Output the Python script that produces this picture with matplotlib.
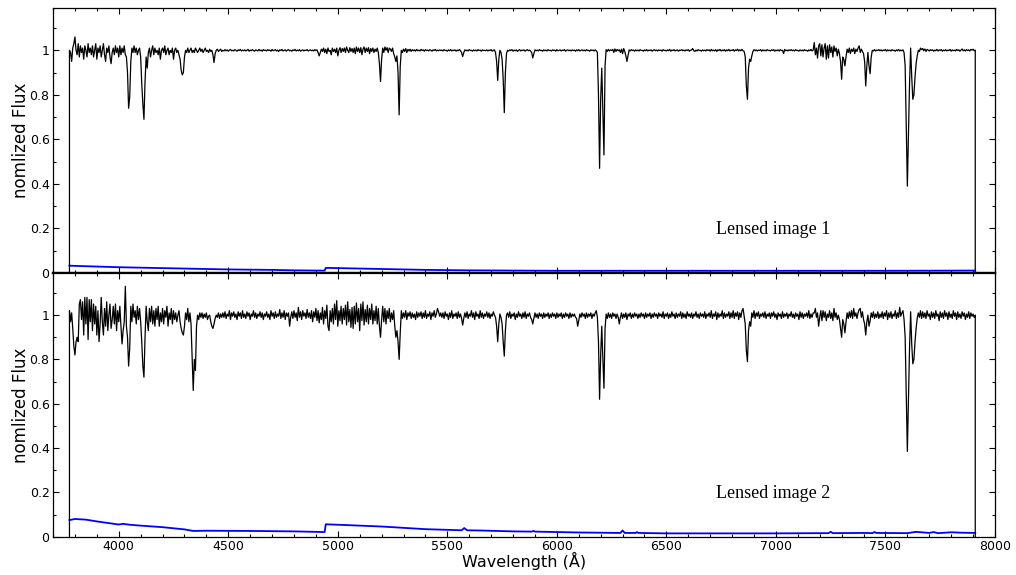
import numpy as np
import matplotlib
matplotlib.use("Agg")
import matplotlib.pyplot as plt
from matplotlib.ticker import MultipleLocator, FormatStrFormatter

# Normalised spectra of the two lensed images, sampled every 5 A from 3775 A
wave_start = 3775.0
wave_step = 5.0

flux_1 = [
    # 3775
    1.00, 0.99, 0.95, 1.01, 1.03, 1.06, 1.00, 0.98, 1.03, 0.97, 1.02, 0.99, 1.01, 0.96, 1.02, 1.00, 0.97, 1.03, 0.99, 1.01,
    # 3875
    0.98, 1.02, 0.97, 1.00, 1.03, 0.96, 1.01, 0.99, 1.02, 0.97, 1.00, 1.03, 0.98, 0.95, 1.01, 0.99, 1.02, 0.97, 0.94, 0.99,
    # 3975
    1.01, 0.98, 1.02, 0.99, 1.01, 0.97, 1.02, 0.98, 1.01, 0.99, 1.02, 0.98, 0.97, 0.90, 0.74, 0.79, 0.95, 1.01, 0.99, 1.02,
    # 4075
    0.99, 1.01, 0.98, 1.00, 1.01, 0.97, 0.85, 0.76, 0.69, 0.86, 0.97, 0.92, 0.99, 1.01, 0.97, 1.00, 1.02, 0.98, 1.01, 0.99,
    # 4175
    1.00, 0.98, 1.01, 0.96, 1.00, 1.01, 0.99, 1.02, 0.98, 1.00, 1.01, 0.98, 1.00, 0.99, 1.01, 0.96, 1.00, 1.01, 0.99, 1.00,
    # 4275
    0.98, 0.96, 0.91, 0.89, 0.90, 0.97, 1.00, 0.99, 1.01, 0.99, 1.00, 1.01, 0.99, 1.00, 0.99, 1.01, 1.00, 0.99, 1.00, 1.01,
    # 4375
    0.995, 1.005, 0.99, 1.00, 1.01, 0.995, 1.00, 0.99, 1.005, 0.995, 1.00, 0.98, 0.945, 0.985, 1.00, 1.005, 0.995, 1.00, 1.005, 0.995,
    # 4475
    1.000, 0.997, 1.003, 0.998, 1.002, 0.996, 1.001, 1.004, 0.998, 1.000, 0.997, 1.003, 1.000, 0.996, 1.002, 0.999, 1.004, 0.997, 1.001, 0.998,
    # 4575
    1.002, 0.997, 1.000, 1.004, 0.996, 1.001, 0.998, 1.003, 0.999, 0.996, 1.002, 1.000, 0.997, 1.004, 0.998, 1.001, 0.996, 1.003, 0.999, 1.001,
    # 4675
    0.997, 1.003, 0.999, 1.001, 0.996, 1.004, 0.998, 1.000, 1.003, 0.997, 1.001, 0.995, 1.002, 0.999, 1.004, 0.997, 1.000, 1.002, 0.996, 1.001,
    # 4775
    1.003, 0.998, 1.000, 0.996, 1.002, 0.999, 1.004, 0.997, 1.001, 0.998, 1.003, 0.996, 1.000, 1.002, 0.997, 1.001, 0.999, 1.003, 0.997, 1.000,
    # 4875
    1.002, 0.998, 1.001, 0.997, 1.003, 0.999, 1.002, 0.990, 0.975, 0.990, 1.005, 0.995, 1.010, 0.990, 1.005, 0.985, 1.010, 0.995, 1.000, 0.980,
    # 4975
    1.010, 0.995, 1.005, 0.990, 1.010, 0.975, 1.000, 1.012, 0.990, 1.008, 0.995, 1.010, 0.990, 1.015, 1.000, 0.990, 1.012, 0.995, 1.008, 0.990,
    # 5075
    1.010, 0.985, 1.015, 0.995, 1.010, 0.990, 1.012, 0.980, 1.005, 1.015, 0.990, 1.010, 0.995, 1.012, 0.985, 1.008, 0.995, 1.010, 0.990, 1.005,
    # 5175
    0.995, 1.010, 0.990, 0.940, 0.860, 0.960, 1.010, 0.990, 1.015, 1.000, 1.012, 0.990, 1.010, 1.005, 0.995, 1.010, 0.985, 0.970, 0.950, 0.975,
    # 5275
    0.900, 0.710, 0.930, 1.000, 0.990, 1.005, 0.995, 1.008, 0.990, 1.004, 0.997, 1.005, 0.995, 1.003, 0.998, 1.002, 0.996, 1.004, 0.998, 1.001,
    # 5375
    0.997, 1.004, 0.999, 1.002, 0.996, 1.003, 0.999, 1.001, 0.997, 1.003, 1.000, 0.996, 1.002, 0.999, 1.004, 0.997, 1.001, 0.998, 1.002, 0.999,
    # 5475
    1.001, 0.997, 1.003, 0.999, 1.000, 0.996, 1.002, 0.998, 1.003, 0.997, 1.001, 0.999, 1.002, 0.996, 1.001, 0.998, 1.003, 0.998, 0.990, 0.972,
    # 5575
    0.990, 1.002, 0.998, 1.001, 0.997, 1.003, 0.999, 1.000, 0.996, 1.002, 0.998, 1.001, 0.997, 1.003, 0.999, 1.001, 0.996, 1.002, 0.999, 1.000,
    # 5675
    0.998, 1.002, 0.997, 1.001, 0.999, 1.003, 0.996, 1.000, 1.002, 0.990, 0.950, 0.865, 0.960, 1.000, 0.990, 0.960, 0.870, 0.720, 0.900, 0.985,
    # 5775
    1.000, 0.997, 1.002, 0.999, 1.003, 0.996, 1.001, 0.998, 1.002, 0.995, 1.000, 1.003, 0.997, 1.001, 0.999, 1.002, 0.996, 1.000, 1.003, 0.998,
    # 5875
    1.001, 0.997, 0.990, 0.966, 0.985, 1.002, 0.998, 1.001, 0.997, 1.003, 0.999, 1.000, 0.996, 1.002, 0.998, 1.001, 0.997, 1.003, 0.999, 1.000,
    # 5975
    0.997, 1.002, 0.999, 1.001, 0.996, 1.003, 0.998, 1.000, 1.002, 0.997, 1.001, 0.999, 1.003, 0.996, 1.000, 1.002, 0.998, 1.001, 0.997, 1.002,
    # 6075
    0.999, 1.001, 0.996, 1.002, 0.998, 1.003, 0.997, 1.000, 1.002, 0.998, 1.001, 0.997, 1.003, 0.999, 1.000, 0.996, 1.002, 0.999, 1.001, 0.997,
    # 6175
    1.002, 0.998, 0.990, 0.800, 0.470, 0.780, 0.920, 0.720, 0.530, 0.930, 1.003, 0.995, 1.004, 0.997, 1.002, 0.999, 1.004, 0.990, 1.006, 0.995,
    # 6275
    1.004, 0.998, 1.002, 0.990, 1.005, 0.985, 1.008, 0.995, 0.975, 0.950, 0.975, 1.002, 0.997, 1.003, 0.999, 1.001, 0.996, 1.002, 0.998, 1.001,
    # 6375
    0.997, 1.003, 0.999, 1.000, 0.996, 1.002, 0.998, 1.003, 0.997, 1.001, 0.999, 1.002, 0.996, 1.000, 1.003, 0.998, 1.001, 0.997, 1.002, 0.999,
    # 6475
    1.001, 0.996, 1.003, 0.999, 1.000, 0.997, 1.002, 0.998, 1.004, 0.996, 1.001, 0.999, 1.003, 0.997, 1.000, 1.002, 0.996, 1.001, 0.999, 1.003,
    # 6575
    0.998, 1.001, 0.997, 1.002, 0.999, 1.003, 0.996, 1.000, 1.002, 1.008, 0.998, 0.995, 1.001, 0.997, 1.003, 0.999, 1.000, 0.996, 1.002, 0.998,
    # 6675
    1.001, 0.997, 1.003, 0.999, 1.002, 0.996, 1.004, 0.998, 1.001, 0.997, 1.003, 0.995, 1.002, 0.999, 1.004, 0.997, 1.001, 0.998, 1.003, 0.996,
    # 6775
    1.002, 0.998, 1.004, 0.997, 1.001, 0.999, 1.003, 0.996, 1.002, 0.999, 1.005, 0.997, 1.002, 0.998, 1.004, 0.998, 0.995, 0.970, 0.840, 0.780,
    # 6875
    0.920, 0.960, 0.950, 0.975, 0.995, 1.003, 0.998, 1.002, 0.997, 1.001, 0.999, 1.003, 0.996, 1.002, 0.998, 1.001, 0.997, 1.003, 0.999, 1.000,
    # 6975
    0.997, 1.002, 0.999, 1.003, 0.996, 1.001, 0.998, 1.002, 0.997, 1.003, 0.999, 1.000, 0.985, 1.004, 0.998, 1.001, 0.997, 1.002, 0.999, 1.003,
    # 7075
    0.998, 1.001, 0.997, 1.003, 0.999, 1.000, 0.996, 1.002, 0.998, 1.001, 0.997, 1.003, 0.999, 1.000, 0.996, 1.002, 0.998, 1.004, 0.997, 1.001,
    # 7175
    1.035, 0.980, 1.010, 0.965, 1.020, 1.030, 0.975, 1.025, 0.970, 1.010, 1.030, 0.960, 1.020, 0.965, 1.025, 0.990, 1.015, 0.970, 1.020, 0.995,
    # 7275
    1.010, 0.975, 1.005, 0.985, 0.950, 0.870, 0.970, 0.960, 0.930, 0.970, 1.005, 0.990, 1.010, 0.985, 1.005, 0.995, 1.010, 0.985, 1.005, 0.995,
    # 7375
    1.010, 1.020, 0.990, 1.005, 0.995, 0.985, 0.950, 0.840, 0.930, 0.990, 0.930, 0.895, 0.970, 1.000, 0.997, 1.003, 0.997, 1.001, 0.999, 1.003,
    # 7475
    0.998, 1.002, 0.997, 1.001, 0.999, 1.004, 0.996, 1.002, 0.998, 1.001, 0.997, 1.003, 0.999, 1.000, 0.996, 1.002, 0.998, 1.004, 0.997, 1.001,
    # 7575
    0.998, 1.002, 0.990, 0.930, 0.660, 0.390, 0.620, 0.850, 1.010, 0.880, 0.780, 0.800, 0.880, 0.940, 0.975, 1.000, 0.995, 1.010, 1.003, 1.008,
    # 7675
    0.998, 1.006, 0.995, 1.004, 1.001, 0.997, 1.003, 0.999, 1.002, 0.996, 1.001, 0.998, 1.004, 0.997, 1.002, 0.999, 1.003, 0.996, 1.001, 0.998,
    # 7775
    1.003, 0.997, 1.001, 0.999, 1.004, 0.996, 1.002, 0.998, 1.001, 0.997, 1.004, 0.999, 1.002, 0.996, 1.001, 1.006, 0.998, 1.002, 0.997, 1.003,
    # 7875
    0.999, 1.002, 0.997, 1.004, 1.001, 1.005, 0.998, 1.001,
]

flux_2 = [
    # 3775
    1.02, 0.97, 1.01, 0.94, 0.86, 0.82, 0.88, 0.90, 0.88, 1.05, 1.07, 0.98, 1.06, 0.91, 1.08, 0.96, 1.08, 0.89, 1.07, 0.97,
    # 3875
    1.07, 0.93, 1.05, 0.96, 1.04, 0.91, 1.02, 0.88, 0.96, 1.08, 0.97, 0.91, 1.03, 0.95, 1.06, 0.93, 1.00, 1.05, 0.94, 0.98,
    # 3975
    1.04, 0.96, 1.05, 0.93, 1.02, 0.97, 1.04, 0.95, 0.87, 0.93, 0.97, 1.13, 0.95, 0.90, 0.77, 0.85, 1.04, 0.97, 1.05, 0.99,
    # 4075
    1.02, 0.96, 1.04, 0.98, 1.03, 0.97, 0.88, 0.77, 0.72, 0.90, 1.04, 0.97, 0.93, 1.03, 0.97, 1.04, 0.96, 1.02, 0.95, 1.03,
    # 4175
    0.98, 1.04, 0.95, 1.01, 0.97, 1.03, 0.96, 1.02, 0.99, 1.04, 0.95, 1.01, 0.98, 1.03, 0.96, 1.02, 0.98, 1.01, 0.97, 1.00,
    # 4275
    1.02, 0.97, 0.94, 0.92, 0.91, 0.95, 1.01, 0.98, 1.03, 0.97, 1.01, 0.96, 0.81, 0.66, 0.80, 0.75, 0.95, 1.00, 0.98, 1.01,
    # 4375
    0.99, 1.01, 0.985, 1.005, 0.99, 1.01, 0.98, 0.995, 1.00, 0.97, 0.95, 0.94, 0.96, 0.985, 1.00, 0.99, 1.01, 0.985, 1.005, 0.99,
    # 4475
    1.01, 0.99, 1.015, 0.985, 1.005, 0.995, 1.02, 0.98, 1.01, 0.995, 1.015, 0.99, 1.005, 0.98, 1.015, 0.995, 1.01, 0.985, 1.02, 0.99,
    # 4575
    1.005, 0.985, 1.015, 0.995, 1.01, 0.98, 1.005, 0.995, 1.02, 0.99, 1.01, 0.985, 1.005, 0.995, 1.015, 0.99, 1.01, 0.98, 1.005, 0.995,
    # 4675
    1.015, 0.99, 1.005, 0.98, 1.02, 0.995, 1.01, 0.985, 1.015, 0.99, 1.005, 0.995, 1.025, 0.985, 1.01, 0.99, 1.02, 0.98, 1.01, 0.995,
    # 4775
    1.01, 0.95, 0.99, 1.015, 0.985, 1.02, 0.99, 1.01, 0.975, 1.035, 0.99, 1.015, 0.98, 1.02, 0.995, 1.01, 0.985, 1.025, 0.99, 1.01,
    # 4875
    0.985, 1.02, 0.97, 1.015, 0.99, 1.03, 0.975, 1.02, 0.965, 1.01, 0.98, 1.035, 0.96, 1.02, 0.985, 1.045, 0.95, 0.93, 1.02, 0.97,
    # 4975
    1.03, 0.96, 1.05, 0.98, 1.065, 0.95, 1.02, 0.975, 1.04, 0.96, 1.03, 0.98, 1.045, 0.955, 1.06, 0.97, 1.025, 0.945, 1.035, 0.94,
    # 5075
    1.04, 0.96, 1.055, 0.97, 1.03, 0.93, 1.05, 0.975, 1.06, 0.955, 1.025, 0.97, 1.045, 0.96, 1.03, 0.98, 1.05, 0.96, 1.02, 0.975,
    # 5175
    1.04, 0.96, 1.03, 0.95, 0.90, 0.98, 1.04, 0.97, 1.03, 0.96, 1.02, 0.985, 1.03, 0.97, 1.01, 0.98, 1.02, 0.95, 0.90, 0.93,
    # 5275
    0.88, 0.80, 0.92, 1.02, 0.985, 1.01, 0.99, 1.02, 0.98, 1.01, 0.995, 1.015, 0.985, 1.01, 0.99, 1.005, 0.98, 1.015, 0.99, 1.01,
    # 5375
    0.995, 1.015, 0.985, 1.01, 0.99, 1.02, 0.985, 1.005, 0.995, 1.015, 0.98, 1.01, 0.995, 1.02, 0.99, 1.005, 1.03, 1.015, 0.995, 1.01,
    # 5475
    0.99, 1.01, 0.985, 1.015, 0.995, 1.005, 0.98, 1.01, 0.99, 1.02, 0.985, 1.005, 0.995, 1.01, 0.985, 1.015, 0.99, 1.005, 0.985, 0.955,
    # 5575
    0.985, 1.01, 0.99, 1.015, 0.985, 1.005, 0.995, 1.02, 0.99, 1.01, 0.98, 1.015, 0.995, 1.005, 0.985, 1.02, 0.99, 1.01, 0.985, 1.005,
    # 5675
    0.995, 1.015, 0.99, 1.01, 0.985, 1.005, 0.995, 1.015, 1.00, 0.99, 0.95, 0.88, 0.96, 1.005, 0.99, 0.96, 0.88, 0.815, 0.93, 1.00,
    # 5775
    1.01, 0.99, 1.015, 0.985, 1.005, 0.995, 1.01, 0.98, 1.005, 0.99, 1.015, 0.995, 1.005, 0.985, 1.01, 0.99, 1.015, 0.985, 1.005, 0.995,
    # 5875
    1.01, 0.99, 0.98, 0.96, 0.985, 1.01, 0.99, 1.005, 0.985, 1.01, 0.995, 1.005, 0.985, 1.01, 0.99, 1.005, 0.995, 1.01, 0.985, 1.005,
    # 5975
    0.99, 1.01, 0.995, 1.005, 0.985, 1.01, 0.99, 1.005, 0.995, 1.01, 0.985, 1.005, 0.99, 1.01, 0.995, 1.005, 0.985, 1.01, 0.99, 1.005,
    # 6075
    0.995, 1.005, 0.99, 0.985, 0.95, 0.975, 1.005, 0.99, 1.01, 0.995, 1.005, 0.985, 1.01, 0.99, 1.005, 0.995, 1.01, 0.985, 1.005, 0.995,
    # 6175
    1.01, 1.02, 0.99, 0.88, 0.62, 0.82, 0.95, 0.80, 0.67, 0.94, 1.005, 0.985, 1.01, 0.99, 1.005, 0.985, 1.01, 0.995, 1.005, 0.985,
    # 6275
    1.005, 0.99, 0.96, 0.99, 1.01, 0.985, 1.005, 0.99, 1.01, 0.98, 1.005, 0.995, 1.01, 0.985, 1.005, 0.99, 1.01, 0.995, 1.005, 0.985,
    # 6375
    1.005, 0.99, 1.01, 0.995, 1.005, 0.985, 1.01, 0.99, 1.005, 0.995, 1.01, 0.985, 1.005, 0.99, 1.01, 0.995, 1.005, 0.985, 1.01, 0.995,
    # 6475
    1.005, 0.99, 1.015, 0.985, 1.005, 0.995, 1.01, 0.985, 1.005, 0.99, 1.015, 0.995, 1.005, 0.985, 1.01, 0.99, 1.005, 0.995, 1.015, 0.985,
    # 6575
    1.01, 0.99, 1.005, 0.985, 1.015, 0.995, 1.005, 0.99, 1.01, 0.985, 1.005, 0.995, 1.015, 0.99, 1.005, 0.985, 1.01, 0.995, 1.005, 0.99,
    # 6675
    1.015, 0.985, 1.005, 0.995, 1.01, 0.99, 1.02, 0.985, 1.005, 0.995, 1.015, 0.98, 1.01, 0.99, 1.005, 0.995, 1.02, 0.985, 1.01, 0.99,
    # 6775
    1.005, 0.995, 1.015, 0.985, 1.01, 0.99, 1.02, 0.985, 1.01, 0.995, 1.015, 0.98, 1.01, 0.99, 1.02, 1.03, 0.995, 0.96, 0.84, 0.79,
    # 6875
    0.93, 0.97, 0.95, 1.01, 0.99, 1.02, 0.985, 1.01, 0.995, 1.015, 0.985, 1.005, 0.995, 1.01, 0.99, 1.015, 0.985, 1.005, 0.995, 1.01,
    # 6975
    0.985, 1.01, 0.995, 1.015, 0.99, 1.005, 0.98, 1.01, 0.995, 1.005, 0.985, 1.015, 0.99, 1.005, 0.995, 1.01, 0.985, 1.005, 0.995, 1.015,
    # 7075
    0.99, 1.005, 0.985, 1.01, 0.995, 1.005, 0.98, 1.015, 0.99, 1.01, 0.985, 1.005, 0.995, 1.01, 0.99, 1.02, 0.985, 1.005, 0.99, 1.01,
    # 7175
    1.01, 1.03, 0.99, 1.01, 0.95, 0.99, 1.02, 0.975, 1.02, 0.99, 1.015, 0.975, 1.005, 0.99, 1.02, 0.985, 1.01, 0.975, 1.03, 0.99,
    # 7275
    1.01, 0.98, 1.00, 0.98, 0.94, 0.90, 0.98, 0.96, 0.92, 0.97, 1.01, 0.985, 1.015, 0.99, 1.02, 0.985, 1.03, 0.995, 1.01, 0.985,
    # 7375
    1.01, 1.025, 1.03, 0.99, 1.015, 0.98, 0.96, 0.91, 0.97, 1.00, 0.95, 0.975, 1.01, 0.99, 1.015, 0.985, 1.005, 0.99, 1.015, 0.985,
    # 7475
    1.005, 0.99, 1.015, 0.985, 1.01, 0.995, 1.02, 0.98, 1.01, 0.99, 1.015, 0.985, 1.005, 0.995, 1.02, 0.985, 1.01, 0.99, 1.035, 0.995,
    # 7575
    1.01, 1.02, 0.98, 0.90, 0.65, 0.385, 0.62, 0.85, 1.015, 0.87, 0.78, 0.80, 0.88, 0.94, 0.985, 1.01, 0.99, 1.02, 0.985, 1.015,
    # 7675
    0.99, 1.01, 0.985, 1.02, 0.995, 1.005, 0.98, 1.015, 0.99, 1.01, 0.985, 1.02, 0.995, 1.005, 0.975, 1.015, 0.99, 1.01, 0.985, 1.02,
    # 7775
    0.995, 1.01, 0.98, 1.015, 0.99, 1.005, 0.985, 1.02, 0.995, 1.01, 0.98, 1.015, 0.99, 1.005, 0.985, 1.015, 0.995, 1.01, 0.98, 1.005,
    # 7875
    0.99, 1.015, 0.985, 1.01, 0.995, 1.005, 0.99, 1.00,
]

# Flux error spectra (blue), tabulated at the wavelengths where they change
err_wave_1 = [3775, 3800, 3900, 4000, 4100, 4200, 4300, 4400, 4500, 4600,
              4700, 4800, 4900, 4940, 4945, 5000, 5100, 5200, 5300, 5400,
              5500, 5600, 5800, 6000, 6500, 7000, 7500, 7910]
err_1 = [0.033, 0.032, 0.029, 0.026, 0.024, 0.022, 0.020, 0.018, 0.016, 0.015,
         0.014, 0.012, 0.011, 0.011, 0.023, 0.022, 0.020, 0.018, 0.016, 0.014,
         0.013, 0.012, 0.011, 0.010, 0.010, 0.010, 0.010, 0.011]

err_wave_2 = [3775, 3800, 3850, 3900, 3950, 4000, 4020, 4050, 4100, 4200,
              4300, 4340, 4400, 4600, 4800, 4940, 4945, 5000, 5100, 5200,
              5300, 5400, 5500, 5565, 5577, 5590, 5650, 5800, 5885, 5893,
              5900, 6000, 6100, 6200, 6290, 6300, 6310, 6360, 6366, 6372,
              6500, 6800, 7000, 7200, 7240, 7250, 7260, 7400, 7440, 7450,
              7460, 7600, 7640, 7700, 7720, 7740, 7800, 7850, 7910]
err_2 = [0.075, 0.080, 0.077, 0.069, 0.062, 0.055, 0.058, 0.054, 0.050, 0.043,
         0.033, 0.026, 0.027, 0.026, 0.024, 0.021, 0.056, 0.054, 0.050, 0.046,
         0.040, 0.034, 0.031, 0.029, 0.039, 0.029, 0.028, 0.024, 0.023, 0.026,
         0.023, 0.021, 0.019, 0.018, 0.017, 0.028, 0.017, 0.017, 0.021, 0.017,
         0.015, 0.015, 0.015, 0.016, 0.016, 0.022, 0.016, 0.017, 0.016, 0.021,
         0.017, 0.016, 0.022, 0.017, 0.021, 0.016, 0.020, 0.018, 0.017]

panel_labels = ["Lensed image 1", "Lensed image 2"]
y_label = "nomlized Flux"
x_label = "Wavelength (\u00c5)"


def closed_trace(w, f):
    """Spectrum trace that drops to zero at both ends."""
    w = np.asarray(w, dtype=float)
    f = np.asarray(f, dtype=float)
    return np.r_[w[0], w, w[-1]], np.r_[0.0, f, 0.0]


plt.rcParams["font.family"] = ["DejaVu Sans"]

fig = plt.figure(figsize=(10.16, 5.75), dpi=100)
ax_top = fig.add_axes([0.0522, 0.5252, 0.9271, 0.4609])
ax_bot = fig.add_axes([0.0522, 0.0666, 0.9271, 0.4586], sharex=ax_top)

spectra = [(flux_1, err_wave_1, err_1), (flux_2, err_wave_2, err_2)]
for ax, (flux, ew, ev), label in zip([ax_top, ax_bot], spectra, panel_labels):
    wave = wave_start + wave_step * np.arange(len(flux))
    wx, fy = closed_trace(wave, flux)
    ax.plot(wx, fy, color="black", lw=0.9, zorder=3)
    ax.plot(ew, ev, color="#0000ff", lw=1.3, zorder=2)

    ax.set_xlim(3700, 8000)
    ax.set_ylim(0, 1.19)
    ax.xaxis.set_major_locator(MultipleLocator(500))
    ax.xaxis.set_minor_locator(MultipleLocator(100))
    ax.yaxis.set_major_locator(MultipleLocator(0.2))
    ax.yaxis.set_minor_locator(MultipleLocator(0.1))
    ax.yaxis.set_major_formatter(FormatStrFormatter("%g"))
    ax.tick_params(which="both", direction="in", top=True, right=True,
                   width=0.8, labelsize=9, pad=2.5)
    ax.tick_params(which="major", length=4.5)
    ax.tick_params(which="minor", length=2.5)
    for sp in ax.spines.values():
        sp.set_linewidth(0.9)
    ax.set_ylabel(y_label, fontsize=12, labelpad=0)
    ax.text(6725, 0.195, label, fontsize=13, family="Liberation Serif",
            ha="left", va="center")

ax_top.tick_params(labelbottom=False)
ax_top.spines["bottom"].set_linewidth(1.6)
ax_bot.spines["top"].set_linewidth(1.6)
ax_bot.set_xlabel(x_label, fontsize=11.5, labelpad=-1)

fig.savefig("out.png", dpi=100)
